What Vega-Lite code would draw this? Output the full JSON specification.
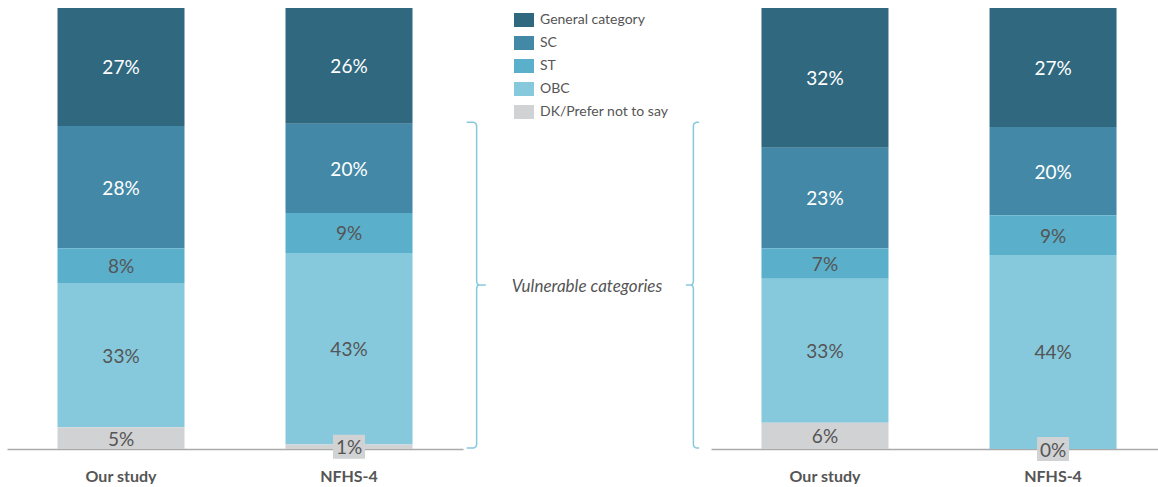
{
  "$schema": "https://vega.github.io/schema/vega-lite/v6.json",
  "padding": {"left": 7, "top": 8, "right": 0, "bottom": 0},
  "autosize": {"type": "pad"},
  "spacing": 0,
  "bounds": "flush",
  "config": {
    "font": "Lato",
    "view": {"stroke": null},
    "legend": {
      "symbolType": "M-1,-0.7H1V0.7H-1Z",
      "symbolSize": 400,
      "symbolStrokeWidth": 0,
      "symbolOpacity": 1,
      "labelFontSize": 14,
      "labelColor": "#555",
      "labelOffset": 6,
      "rowPadding": 6,
      "title": null
    },
    "axisX": {
      "title": null,
      "labelAngle": 0,
      "domainColor": "#aaa",
      "domainWidth": 1.5,
      "ticks": false,
      "tickSize": 0,
      "labelPadding": 19,
      "labelFontSize": 16,
      "labelFontWeight": "bold",
      "labelColor": "#555",
      "grid": false
    }
  },
  "datasets": {
    "left": [
      {"study": "Our study", "category": "General category", "order": 5, "value": 27, "label": "27%"},
      {"study": "Our study", "category": "SC", "order": 4, "value": 28, "label": "28%"},
      {"study": "Our study", "category": "ST", "order": 3, "value": 8, "label": "8%"},
      {"study": "Our study", "category": "OBC", "order": 2, "value": 33, "label": "33%"},
      {"study": "Our study", "category": "DK/Prefer not to say", "order": 1, "value": 5, "label": "5%"},
      {"study": "NFHS-4", "category": "General category", "order": 5, "value": 26, "label": "26%"},
      {"study": "NFHS-4", "category": "SC", "order": 4, "value": 20, "label": "20%"},
      {"study": "NFHS-4", "category": "ST", "order": 3, "value": 9, "label": "9%"},
      {"study": "NFHS-4", "category": "OBC", "order": 2, "value": 43, "label": "43%"},
      {"study": "NFHS-4", "category": "DK/Prefer not to say", "order": 1, "value": 1, "label": "1%"}
    ],
    "right": [
      {"study": "Our study", "category": "General category", "order": 5, "value": 32, "label": "32%"},
      {"study": "Our study", "category": "SC", "order": 4, "value": 23, "label": "23%"},
      {"study": "Our study", "category": "ST", "order": 3, "value": 7, "label": "7%"},
      {"study": "Our study", "category": "OBC", "order": 2, "value": 33, "label": "33%"},
      {"study": "Our study", "category": "DK/Prefer not to say", "order": 1, "value": 6, "label": "6%"},
      {"study": "NFHS-4", "category": "General category", "order": 5, "value": 27, "label": "27%"},
      {"study": "NFHS-4", "category": "SC", "order": 4, "value": 20, "label": "20%"},
      {"study": "NFHS-4", "category": "ST", "order": 3, "value": 9, "label": "9%"},
      {"study": "NFHS-4", "category": "OBC", "order": 2, "value": 44, "label": "44%"},
      {"study": "NFHS-4", "category": "DK/Prefer not to say", "order": 1, "value": 0, "label": "0%"}
    ],
    "brackets": [
      {"side": "L", "seq": 1, "bx": 1.5, "by": 74.1},
      {"side": "L", "seq": 2, "bx": 4.3, "by": 74.1},
      {"side": "L", "seq": 3, "bx": 5.2, "by": 73.8},
      {"side": "L", "seq": 4, "bx": 5.5, "by": 73.3},
      {"side": "L", "seq": 5, "bx": 5.5, "by": 38.0},
      {"side": "L", "seq": 6, "bx": 5.8, "by": 37.4},
      {"side": "L", "seq": 7, "bx": 6.5, "by": 37.2},
      {"side": "L", "seq": 8, "bx": 9.2, "by": 37.2},
      {"side": "L", "seq": 9, "bx": 6.5, "by": 37.2},
      {"side": "L", "seq": 10, "bx": 5.8, "by": 37.0},
      {"side": "L", "seq": 11, "bx": 5.5, "by": 36.4},
      {"side": "L", "seq": 12, "bx": 5.5, "by": 1.0},
      {"side": "L", "seq": 13, "bx": 5.2, "by": 0.5},
      {"side": "L", "seq": 14, "bx": 4.3, "by": 0.2},
      {"side": "L", "seq": 15, "bx": 1.5, "by": 0.2},
      {"side": "R", "seq": 1, "bx": 95.2, "by": 74.1},
      {"side": "R", "seq": 2, "bx": 94.1, "by": 74.1},
      {"side": "R", "seq": 3, "bx": 93.2, "by": 73.8},
      {"side": "R", "seq": 4, "bx": 92.9, "by": 73.3},
      {"side": "R", "seq": 5, "bx": 92.9, "by": 38.0},
      {"side": "R", "seq": 6, "bx": 92.6, "by": 37.4},
      {"side": "R", "seq": 7, "bx": 91.9, "by": 37.2},
      {"side": "R", "seq": 8, "bx": 89.9, "by": 37.2},
      {"side": "R", "seq": 9, "bx": 91.9, "by": 37.2},
      {"side": "R", "seq": 10, "bx": 92.6, "by": 37.0},
      {"side": "R", "seq": 11, "bx": 92.9, "by": 36.4},
      {"side": "R", "seq": 12, "bx": 92.9, "by": 1.0},
      {"side": "R", "seq": 13, "bx": 93.2, "by": 0.5},
      {"side": "R", "seq": 14, "bx": 94.1, "by": 0.2},
      {"side": "R", "seq": 15, "bx": 95.2, "by": 0.2}
    ]
  },
  "hconcat": [
    {
      "width": 456,
      "height": 441,
      "data": {"name": "left"},
      "encoding": {
        "x": {"field": "study", "type": "nominal", "sort": ["Our study", "NFHS-4"], "scale": {"paddingInner": 0.5, "paddingOuter": 0.25, "align": 0.5}},
        "y": {"field": "value", "type": "quantitative", "stack": "normalize", "axis": null},
        "order": {"field": "order", "type": "quantitative"},
        "detail": {"field": "category"}
      },
      "layer": [
        {
          "mark": {"type": "bar", "size": 127},
          "encoding": {
            "color": {
              "field": "category", "type": "nominal",
              "scale": {"domain": ["General category", "SC", "ST", "OBC", "DK/Prefer not to say"], "range": ["#30687f", "#4389a7", "#5aafcb", "#86c9dd", "#d1d2d4"]},
              "legend": {"orient": "none", "legendX": 507, "legendY": 2}
            }
          }
        },
        {
          "mark": {"type": "point", "shape": "M-1,-0.75H1V0.75H-1Z", "filled": true, "size": 1024, "color": "#d1d2d4", "strokeWidth": 0},
          "encoding": {
            "y": {"field": "value", "type": "quantitative", "stack": "normalize", "bandPosition": 0.5, "axis": null},
            "opacity": {"condition": {"test": "datum.value < 3", "value": 1}, "value": 0}
          }
        },
        {
          "mark": {"type": "text", "fontSize": 19, "dy": 1.5},
          "encoding": {
            "y": {"field": "value", "type": "quantitative", "stack": "normalize", "bandPosition": 0.5, "axis": null},
            "text": {"field": "label"},
            "color": {"condition": {"test": "datum.category === 'General category' || datum.category === 'SC'", "value": "#ffffff"}, "value": "#555555"}
          }
        }
      ]
    },
    {
      "width": 248,
      "height": 441,
      "layer": [
        {
          "data": {"name": "brackets"},
          "mark": {"type": "line", "color": "#86c9dd", "strokeWidth": 1.5},
          "encoding": {
            "x": {"field": "bx", "type": "quantitative", "scale": {"domain": [0, 100], "nice": false, "zero": false}, "axis": null},
            "y": {"field": "by", "type": "quantitative", "scale": {"domain": [0, 100], "nice": false}, "axis": null},
            "order": {"field": "seq", "type": "quantitative"},
            "detail": {"field": "side"}
          }
        },
        {
          "data": {"values": [{"note": "Vulnerable categories"}]},
          "mark": {"type": "text", "fontStyle": "italic", "fontSize": 17, "color": "#555555", "dy": 2},
          "encoding": {
            "x": {"datum": 50, "type": "quantitative"},
            "y": {"datum": 37.2, "type": "quantitative"},
            "text": {"field": "note"}
          }
        }
      ]
    },
    {
      "width": 447,
      "height": 441,
      "data": {"name": "right"},
      "encoding": {
        "x": {"field": "study", "type": "nominal", "sort": ["Our study", "NFHS-4"], "scale": {"paddingInner": 0.5, "paddingOuter": 0.23, "align": 0.543}},
        "y": {"field": "value", "type": "quantitative", "stack": "normalize", "axis": null},
        "order": {"field": "order", "type": "quantitative"},
        "detail": {"field": "category"}
      },
      "layer": [
        {
          "mark": {"type": "bar", "size": 127},
          "encoding": {
            "color": {
              "field": "category", "type": "nominal",
              "scale": {"domain": ["General category", "SC", "ST", "OBC", "DK/Prefer not to say"], "range": ["#30687f", "#4389a7", "#5aafcb", "#86c9dd", "#d1d2d4"]},
              "legend": {"orient": "none", "legendX": 507, "legendY": 2}
            }
          }
        },
        {
          "mark": {"type": "point", "shape": "M-1,-0.75H1V0.75H-1Z", "filled": true, "size": 1024, "color": "#d1d2d4", "strokeWidth": 0},
          "encoding": {
            "y": {"field": "value", "type": "quantitative", "stack": "normalize", "bandPosition": 0.5, "axis": null},
            "opacity": {"condition": {"test": "datum.value < 3", "value": 1}, "value": 0}
          }
        },
        {
          "mark": {"type": "text", "fontSize": 19, "dy": 1.5},
          "encoding": {
            "y": {"field": "value", "type": "quantitative", "stack": "normalize", "bandPosition": 0.5, "axis": null},
            "text": {"field": "label"},
            "color": {"condition": {"test": "datum.category === 'General category' || datum.category === 'SC'", "value": "#ffffff"}, "value": "#555555"}
          }
        }
      ]
    }
  ]
}
